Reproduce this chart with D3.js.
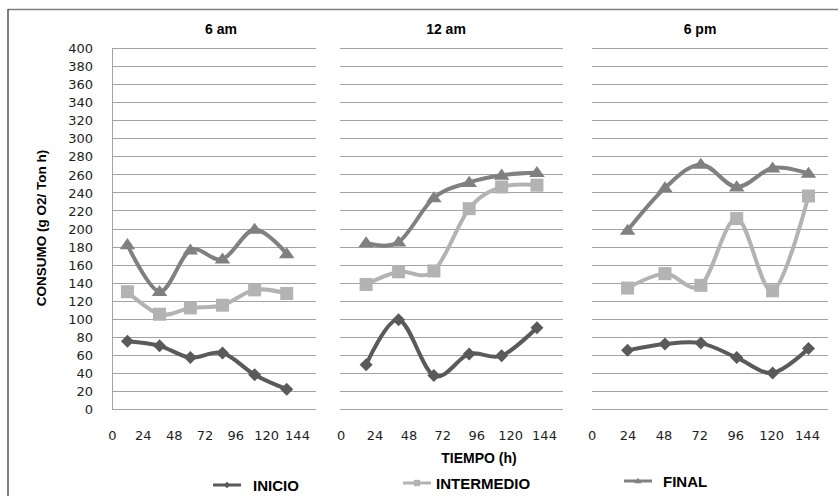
<!DOCTYPE html>
<html>
<head>
<meta charset="utf-8">
<script src="https://cdn.jsdelivr.net/npm/d3@7"></script>
<style>
  html, body { margin: 0; padding: 0; background: #fff; }
  svg { display: block; }
</style>
</head>
<body>
<svg id="chart" width="838" height="496"></svg>
<script>
// ---------------- DATA ----------------
const panelTitles = ["6 am", "12 am", "6 pm"];
const seriesNames = ["INICIO", "INTERMEDIO", "FINAL"];
const xTickLabels = [0, 24, 48, 72, 96, 120, 144];
const yTickValues = [0, 20, 40, 60, 80, 100, 120, 140, 160, 180, 200, 220, 240, 260, 280, 300, 320, 340, 360, 380, 400];

// sampling times (h) as placed in each panel
const time6am  = [12, 37, 61, 86, 111, 136];
const time12am = [18, 41, 66, 91, 114, 139];
const time6pm  = [24, 49, 73, 97, 121, 145];

// consumption values (g O2 / Ton h)
const inicio6am      = [75, 70, 57, 62, 38, 22];
const intermedio6am  = [130, 105, 112, 115, 132, 128];
const final6am       = [182, 130, 176, 166, 199, 172];

const inicio12am     = [49, 99, 37, 61, 59, 90];
const intermedio12am = [138, 152, 153, 222, 246, 248];
const final12am      = [184, 185, 234, 251, 259, 262];

const inicio6pm      = [65, 72, 73, 57, 40, 67];
const intermedio6pm  = [134, 150, 137, 211, 131, 236];
const final6pm       = [198, 245, 271, 246, 267, 261];

// ---------------- LAYOUT / STYLE ----------------
const svg = d3.select("#chart");
const yTop = 48, yBottom = 409;
const y = d3.scaleLinear().domain([0, 400]).range([yBottom, yTop]);

const panelLayout = [
  { plotX0: 112, plotX1: 316, zeroX: 112,   endX: 297, titleX: 221 },
  { plotX0: 340, plotX1: 563, zeroX: 340.7, endX: 544, titleX: 446 },
  { plotX0: 592, plotX1: 828, zeroX: 591.7, endX: 807, titleX: 700 }
];
const panelTimes = [time6am, time12am, time6pm];
const panelValues = [
  [inicio6am, intermedio6am, final6am],
  [inicio12am, intermedio12am, final12am],
  [inicio6pm, intermedio6pm, final6pm]
];

const seriesColor = ["#5a5a5a", "#b3b3b3", "#808080"];
const gridColor = "#a3a3a3";
const textColor = "#1e1e24";
const tickFont = "'DejaVu Sans', sans-serif";

const diamond = { draw(ctx, size) { const r = Math.sqrt(size) / 2 * 1.0; ctx.moveTo(0, -r); ctx.lineTo(r, 0); ctx.lineTo(0, r); ctx.lineTo(-r, 0); ctx.closePath(); } };
const square = { draw(ctx, size) { const r = Math.sqrt(size) / 2; ctx.rect(-r, -r, 2 * r, 2 * r); } };
const triangle = { draw(ctx, size) { const w = Math.sqrt(size) * 1.2 / 2, h = Math.sqrt(size) * 0.85; ctx.moveTo(0, -h * 0.6); ctx.lineTo(w, h * 0.4); ctx.lineTo(-w, h * 0.4); ctx.closePath(); } };
const seriesSymbol = [diamond, square, triangle];
const seriesSize = [169, 169, 169];

// border (top and left only)
svg.append("line").attr("x1", 8).attr("x2", 838).attr("y1", 9.5).attr("y2", 9.5)
  .attr("stroke", "#808080").attr("stroke-width", 1.5);
svg.append("line").attr("x1", 8).attr("x2", 8).attr("y1", 9).attr("y2", 496)
  .attr("stroke", "#555").attr("stroke-width", 1.5);

panelLayout.forEach((p, pi) => {
  const g = svg.append("g");
  const x = d3.scaleLinear().domain([0, 144]).range([p.zeroX, p.endX]);

  // gridlines
  g.selectAll("line.grid").data(yTickValues).join("line")
    .attr("class", "grid")
    .attr("x1", p.plotX0).attr("x2", p.plotX1)
    .attr("y1", d => Math.round(y(d)) + 0.5).attr("y2", d => Math.round(y(d)) + 0.5)
    .attr("stroke", gridColor).attr("stroke-width", 1);

  // left axis line on first panel + y labels
  if (pi === 0) {
    g.append("line").attr("x1", p.plotX0 + 0.5).attr("x2", p.plotX0 + 0.5)
      .attr("y1", yTop).attr("y2", yBottom + 0.5)
      .attr("stroke", gridColor).attr("stroke-width", 1);
    const yAxis = d3.axisLeft(y).tickValues(yTickValues).tickSize(0).tickPadding(19);
    const ya = g.append("g").attr("transform", `translate(${p.plotX0},0)`).call(yAxis);
    ya.select(".domain").remove();
    ya.selectAll("text").attr("font-family", tickFont)
      .attr("font-size", 13).attr("fill", textColor).attr("dy", "0.36em");
  }

  // x tick labels
  const xAxis = d3.axisBottom(x).tickValues(xTickLabels).tickSize(0).tickPadding(0).tickFormat(d3.format("d"));
  const xa = g.append("g").attr("transform", `translate(0,${yBottom + 22})`).call(xAxis);
  xa.select(".domain").remove();
  xa.selectAll("text").attr("font-family", tickFont)
    .attr("font-size", 13).attr("fill", textColor).attr("dy", "0.71em");

  // title
  g.append("text").attr("x", p.titleX).attr("y", 34).attr("text-anchor", "middle")
    .attr("font-family", "'Liberation Sans', Arial, sans-serif").attr("font-weight", "bold")
    .attr("font-size", 14).attr("fill", "#000").text(panelTitles[pi]);

  // series
  const times = panelTimes[pi];
  panelValues[pi].forEach((vals, si) => {
    const pts = vals.map((v, i) => [times[i], v]);
    const line = d3.line().x(d => x(d[0])).y(d => y(d[1])).curve(d3.curveCardinal.tension(0));
    g.append("path").attr("d", line(pts)).attr("fill", "none")
      .attr("stroke", seriesColor[si]).attr("stroke-width", 4)
      .attr("stroke-linejoin", "round").attr("stroke-linecap", "round");
    g.selectAll(null).data(pts).join("path")
      .attr("transform", d => `translate(${x(d[0])},${y(d[1])})`)
      .attr("d", d3.symbol().type(seriesSymbol[si]).size(seriesSize[si]))
      .attr("fill", seriesColor[si]);
  });
});

// axis titles
svg.append("text").attr("x", 479).attr("y", 463).attr("text-anchor", "middle")
  .attr("font-family", "'Liberation Sans', Arial, sans-serif").attr("font-weight", "bold")
  .attr("font-size", 14).attr("fill", "#000").text("TIEMPO (h)");

svg.append("text").attr("transform", "translate(46,228) rotate(-90)").attr("text-anchor", "middle")
  .attr("font-family", "'Liberation Sans', Arial, sans-serif").attr("font-weight", "bold")
  .attr("font-size", 13.5).attr("fill", "#000").text("CONSUMO (g O2/ Ton h)");

// legend
const legendPos = [
  { x: 213, y: 485, tx: 253 },
  { x: 403, y: 483, tx: 436 },
  { x: 624, y: 481, tx: 663 }
];
seriesNames.forEach((name, si) => {
  const lp = legendPos[si];
  const lg = svg.append("g");
  lg.append("line").attr("x1", lp.x).attr("x2", lp.x + 28).attr("y1", lp.y).attr("y2", lp.y)
    .attr("stroke", seriesColor[si]).attr("stroke-width", 3);
  lg.append("path").attr("transform", `translate(${lp.x + 14},${lp.y})`)
    .attr("d", d3.symbol().type(seriesSymbol[si]).size(40)).attr("fill", seriesColor[si]);
  lg.append("text").attr("x", lp.tx).attr("y", lp.y + 5.5)
    .attr("font-family", "'Liberation Sans', Arial, sans-serif").attr("font-weight", "bold")
    .attr("font-size", 15).attr("fill", "#000").text(name);
});
</script>
</body>
</html>
